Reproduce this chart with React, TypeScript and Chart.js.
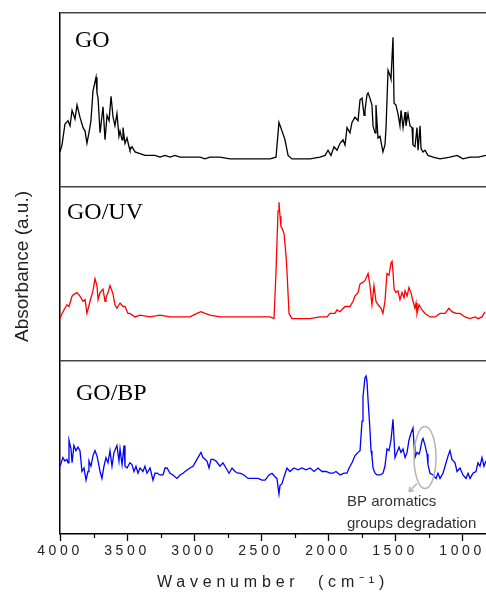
import React, { useEffect, useRef } from 'react';
import { Chart, registerables } from 'chart.js';

Chart.register(...registerables);

// ---------- DATA ----------
const panelLabels = ['GO', 'GO/UV', 'GO/BP'];
const panelOffsets = [2, 1, 0];
const seriesColors = ['#000000', '#ff0000', '#0000ff'];

const xMajorTicks = [1000, 1500, 2000, 2500, 3000, 3500, 4000];
const xMinorTicks = [3750, 3250, 2750, 2250, 1750, 1250];

const goWn = [
  4000, 3985, 3963, 3940, 3925, 3910, 3888, 3873, 3851, 3828,
  3813, 3799, 3784, 3769, 3754, 3731, 3724, 3716, 3701, 3679,
  3664, 3649, 3634, 3619, 3604, 3590, 3575, 3560, 3552, 3537,
  3530, 3515, 3500, 3485, 3478, 3463, 3440, 3403, 3366, 3328,
  3291, 3254, 3216, 3179, 3142, 3104, 3030, 2955, 2918, 2881,
  2806, 2731, 2657, 2582, 2507, 2433, 2388, 2366, 2343, 2321,
  2298, 2269, 2209, 2134, 2060, 2022, 2000, 1978, 1955, 1933,
  1910, 1888, 1873, 1858, 1836, 1821, 1799, 1776, 1761, 1746,
  1731, 1724, 1709, 1701, 1687, 1672, 1664, 1649, 1642, 1627,
  1612, 1590, 1575, 1567, 1552, 1537, 1530, 1515, 1507, 1493,
  1478, 1463, 1455, 1440, 1425, 1418, 1403, 1388, 1373, 1366,
  1351, 1336, 1328, 1313, 1306, 1291, 1276, 1254, 1216, 1164,
  1090, 1037, 1015, 993, 940, 880, 821,
];
const goAbs = [
  0.20, 0.24, 0.36, 0.38, 0.35, 0.44, 0.39, 0.47, 0.40, 0.34,
  0.32, 0.25, 0.31, 0.38, 0.55, 0.63, 0.54, 0.51, 0.31, 0.46,
  0.27, 0.41, 0.38, 0.52, 0.40, 0.35, 0.42, 0.29, 0.32, 0.27,
  0.34, 0.25, 0.28, 0.23, 0.21, 0.23, 0.20, 0.19, 0.18, 0.18,
  0.18, 0.17, 0.18, 0.17, 0.18, 0.17, 0.17, 0.17, 0.16, 0.17,
  0.17, 0.16, 0.16, 0.16, 0.16, 0.16, 0.17, 0.37, 0.32, 0.27,
  0.18, 0.16, 0.16, 0.16, 0.17, 0.18, 0.21, 0.18, 0.23, 0.21,
  0.25, 0.27, 0.24, 0.34, 0.31, 0.37, 0.40, 0.38, 0.50, 0.51,
  0.41, 0.44, 0.53, 0.54, 0.51, 0.47, 0.35, 0.31, 0.47, 0.28,
  0.29, 0.20, 0.24, 0.34, 0.67, 0.64, 0.62, 0.86, 0.48, 0.47,
  0.42, 0.35, 0.44, 0.34, 0.43, 0.35, 0.42, 0.35, 0.34, 0.24,
  0.23, 0.34, 0.21, 0.35, 0.22, 0.20, 0.21, 0.18, 0.17, 0.16,
  0.17, 0.18, 0.17, 0.16, 0.17, 0.17, 0.18,
];

const uvWn = [
  4000, 3985, 3963, 3948, 3933, 3910, 3896, 3873, 3851, 3828,
  3813, 3799, 3776, 3754, 3739, 3724, 3716, 3701, 3679, 3664,
  3657, 3642, 3627, 3612, 3604, 3590, 3575, 3552, 3530, 3515,
  3493, 3478, 3440, 3403, 3328, 3254, 3179, 3104, 3030, 2978,
  2948, 2918, 2881, 2806, 2731, 2657, 2582, 2507, 2433, 2403,
  2388, 2373, 2366, 2358, 2351, 2343, 2328, 2313, 2306, 2291,
  2269, 2209, 2134, 2060, 2007, 1985, 1948, 1933, 1910, 1873,
  1836, 1813, 1799, 1776, 1761, 1739, 1724, 1701, 1687, 1672,
  1657, 1642, 1627, 1604, 1590, 1575, 1560, 1545, 1530, 1522,
  1515, 1507, 1493, 1478, 1463, 1448, 1433, 1425, 1410, 1396,
  1381, 1366, 1351, 1343, 1336, 1321, 1298, 1276, 1239, 1201,
  1164, 1127, 1097, 1075, 1045, 1015, 978, 940, 903, 880,
  851, 828,
];
const uvAbs = [
  0.24, 0.27, 0.30, 0.32, 0.31, 0.37, 0.38, 0.39, 0.37, 0.34,
  0.35, 0.27, 0.34, 0.40, 0.47, 0.43, 0.35, 0.39, 0.41, 0.34,
  0.36, 0.39, 0.43, 0.40, 0.38, 0.32, 0.30, 0.33, 0.31, 0.31,
  0.27, 0.27, 0.25, 0.26, 0.25, 0.26, 0.25, 0.25, 0.25, 0.27,
  0.28, 0.27, 0.26, 0.25, 0.25, 0.25, 0.25, 0.25, 0.25, 0.24,
  0.51, 0.86, 0.91, 0.83, 0.77, 0.76, 0.73, 0.60, 0.51, 0.27,
  0.24, 0.24, 0.24, 0.25, 0.25, 0.27, 0.27, 0.29, 0.28, 0.31,
  0.31, 0.34, 0.37, 0.39, 0.44, 0.45, 0.46, 0.50, 0.43, 0.32,
  0.43, 0.34, 0.32, 0.30, 0.27, 0.34, 0.50, 0.49, 0.56, 0.57,
  0.51, 0.41, 0.39, 0.40, 0.35, 0.39, 0.36, 0.40, 0.37, 0.42,
  0.39, 0.34, 0.30, 0.33, 0.27, 0.32, 0.29, 0.27, 0.25, 0.25,
  0.27, 0.27, 0.30, 0.28, 0.27, 0.27, 0.25, 0.24, 0.25, 0.24,
  0.25, 0.28,
];

const bpWn = [
  4000, 3978, 3963, 3948, 3940, 3933, 3918, 3910, 3896, 3881,
  3866, 3851, 3836, 3821, 3806, 3791, 3784, 3769, 3754, 3739,
  3724, 3716, 3701, 3687, 3672, 3657, 3642, 3627, 3612, 3597,
  3575, 3560, 3552, 3537, 3522, 3515, 3500, 3478, 3463, 3448,
  3433, 3418, 3403, 3381, 3366, 3351, 3328, 3306, 3291, 3276,
  3254, 3231, 3216, 3201, 3179, 3157, 3127, 3104, 3082, 3067,
  3030, 3007, 2978, 2948, 2933, 2918, 2903, 2888, 2873, 2858,
  2836, 2806, 2784, 2761, 2739, 2716, 2694, 2672, 2657, 2627,
  2597, 2560, 2522, 2493, 2470, 2440, 2418, 2396, 2381, 2366,
  2358, 2343, 2328, 2306, 2284, 2254, 2224, 2194, 2164, 2134,
  2104, 2075, 2045, 2015, 1985, 1963, 1940, 1910, 1881, 1858,
  1843, 1821, 1799, 1776, 1761, 1746, 1739, 1724, 1716, 1709,
  1701, 1687, 1679, 1672, 1664, 1649, 1634, 1612, 1590, 1575,
  1560, 1545, 1530, 1515, 1507, 1500, 1485, 1470, 1455, 1440,
  1425, 1410, 1396, 1381, 1366, 1358, 1351, 1336, 1321, 1313,
  1298, 1291, 1276, 1261, 1254, 1239, 1216, 1194, 1179, 1164,
  1142, 1119, 1104, 1090, 1075, 1052, 1037, 1015, 993, 970,
  955, 940, 918, 896, 881, 866, 851, 836, 821,
];
const bpAbs = [
  0.39, 0.44, 0.42, 0.43, 0.41, 0.54, 0.49, 0.41, 0.51, 0.48,
  0.50, 0.48, 0.36, 0.38, 0.31, 0.36, 0.42, 0.39, 0.45, 0.48,
  0.45, 0.42, 0.36, 0.32, 0.39, 0.44, 0.41, 0.48, 0.39, 0.47,
  0.51, 0.42, 0.49, 0.40, 0.51, 0.39, 0.38, 0.41, 0.40, 0.36,
  0.39, 0.35, 0.38, 0.36, 0.39, 0.35, 0.38, 0.31, 0.35, 0.35,
  0.34, 0.34, 0.38, 0.38, 0.35, 0.34, 0.32, 0.34, 0.35, 0.36,
  0.38, 0.39, 0.43, 0.47, 0.44, 0.43, 0.42, 0.38, 0.43, 0.43,
  0.42, 0.39, 0.41, 0.38, 0.35, 0.38, 0.36, 0.35, 0.35, 0.34,
  0.32, 0.32, 0.32, 0.31, 0.31, 0.34, 0.35, 0.33, 0.32, 0.23,
  0.28, 0.29, 0.33, 0.38, 0.36, 0.38, 0.37, 0.38, 0.37, 0.38,
  0.36, 0.38, 0.36, 0.36, 0.35, 0.35, 0.36, 0.34, 0.35, 0.35,
  0.38, 0.41, 0.45, 0.47, 0.48, 0.65, 0.79, 0.90, 0.91, 0.88,
  0.77, 0.60, 0.48, 0.45, 0.38, 0.35, 0.34, 0.34, 0.35, 0.39,
  0.49, 0.48, 0.54, 0.66, 0.54, 0.44, 0.47, 0.50, 0.47, 0.49,
  0.44, 0.47, 0.54, 0.58, 0.61, 0.51, 0.44, 0.47, 0.46, 0.48,
  0.54, 0.55, 0.51, 0.46, 0.40, 0.35, 0.34, 0.32, 0.35, 0.32,
  0.35, 0.41, 0.45, 0.48, 0.43, 0.41, 0.36, 0.38, 0.34, 0.32,
  0.35, 0.32, 0.35, 0.36, 0.41, 0.39, 0.44, 0.39, 0.42,
];

const annotationLines = ['BP aromatics', 'groups degradation'];
const annotationWn = 1276;
const annotationAbs = 0.44;

const xTitle = 'Wavenumber  (cm\u207B\u00B9)';
const yTitle = 'Absorbance (a.u.)';

// ---------- STYLE ----------
const SANS = "Arial, 'Liberation Sans', sans-serif";
const SERIF = "'Times New Roman', 'Liberation Serif', serif";

const decorPlugin = {
  id: 'decor',
  beforeDraw(chart: any) {
    chart.ctx.letterSpacing = '4.8px'; // x-axis title
  },
  afterDatasetsDraw(chart: any) {
    chart.ctx.letterSpacing = '3.6px'; // x tick labels (z = 1)
  },
  afterDraw(chart: any) {
    const { ctx, chartArea, scales } = chart;
    const xs = scales.x;
    const ys = scales.y;
    ctx.save();
    ctx.letterSpacing = '0px';

    // minor ticks
    ctx.strokeStyle = '#000';
    ctx.lineWidth = 1.2;
    xMinorTicks.forEach((v) => {
      const px = Math.round(xs.getPixelForValue(v)) + 0.5;
      ctx.beginPath();
      ctx.moveTo(px, chartArea.bottom);
      ctx.lineTo(px, chartArea.bottom + 4);
      ctx.stroke();
    });

    // panel labels
    ctx.fillStyle = '#000';
    ctx.font = `24px ${SERIF}`;
    ctx.textAlign = 'left';
    ctx.textBaseline = 'alphabetic';
    const dx = [15, 7, 16];
    const dy = [34, 32, 40];
    panelLabels.forEach((t, i) => {
      const top = ys.getPixelForValue(panelOffsets[i] + 1);
      ctx.fillText(t, chartArea.left + dx[i], top + dy[i]);
    });

    // annotation
    const ex = xs.getPixelForValue(annotationWn);
    const ey = ys.getPixelForValue(annotationAbs + panelOffsets[2]);
    ctx.strokeStyle = '#b4b4b4';
    ctx.lineWidth = 1.5;
    ctx.beginPath();
    ctx.ellipse(ex, ey, 11, 31, 0, 0, Math.PI * 2);
    ctx.stroke();
    ctx.beginPath();
    ctx.moveTo(ex - 8, ey + 26);
    ctx.lineTo(ex - 16, ey + 34);
    ctx.stroke();
    ctx.beginPath();
    ctx.moveTo(ex - 16, ey + 34);
    ctx.lineTo(ex - 15, ey + 29);
    ctx.moveTo(ex - 16, ey + 34);
    ctx.lineTo(ex - 11, ey + 33);
    ctx.stroke();
    ctx.fillStyle = '#333';
    ctx.font = `15px ${SANS}`;
    ctx.fillText(annotationLines[0], ex - 78, ey + 48);
    ctx.fillText(annotationLines[1], ex - 78, ey + 70);

    // y title
    ctx.translate(chartArea.left - 37, (chartArea.top + chartArea.bottom) / 2 - 7);
    ctx.rotate(-Math.PI / 2);
    ctx.fillStyle = '#222';
    ctx.font = `19px ${SANS}`;
    ctx.textAlign = 'center';
    ctx.textBaseline = 'middle';
    ctx.fillText(yTitle, 0, 0);
    ctx.restore();
  },
};

export default function App() {
  const canvasRef = useRef<HTMLCanvasElement | null>(null);

  useEffect(() => {
    const canvas = canvasRef.current;
    if (!canvas) return;
    const series = [
      { wn: goWn, abs: goAbs },
      { wn: uvWn, abs: uvAbs },
      { wn: bpWn, abs: bpAbs },
    ];
    const chart = new Chart(canvas, {
      type: 'line',
      data: {
        datasets: series.map((s, i) => ({
          label: panelLabels[i],
          data: s.wn.map((w, j) => ({ x: w, y: s.abs[j] + panelOffsets[i] })),
          borderColor: seriesColors[i],
          borderWidth: 1.3,
          pointRadius: 0,
          tension: 0,
          fill: false,
        })),
      },
      options: {
        responsive: false,
        animation: false,
        events: [],
        layout: { padding: { left: 60, top: 13, right: 0, bottom: 0 } },
        plugins: { legend: { display: false }, tooltip: { enabled: false } },
        scales: {
          x: {
            type: 'linear',
            reverse: true,
            min: 821,
            max: 4000,
            afterBuildTicks: (axis: any) => {
              axis.ticks = xMajorTicks.map((v) => ({ value: v }));
            },
            ticks: {
              z: 1,
              padding: 2,
              color: '#222',
              maxRotation: 0,
              autoSkip: false,
              font: { family: SANS, size: 14 },
              callback: (v: any) => String(v),
            },
            grid: {
              drawOnChartArea: false,
              tickLength: 7,
              tickColor: '#000',
              tickWidth: 1.3,
            },
            border: { color: '#000', width: 1.5 },
            title: {
              display: true,
              text: xTitle,
              color: '#222',
              font: { family: SANS, size: 16 },
              padding: { top: 11, bottom: 0 },
            },
          },
          y: {
            type: 'linear',
            min: 0,
            max: 3,
            afterBuildTicks: (axis: any) => {
              axis.ticks = [0, 1, 2, 3].map((v) => ({ value: v }));
            },
            ticks: { display: false },
            grid: {
              drawTicks: false,
              color: (ctx: any) => (ctx.tick && ctx.tick.value === 0 ? 'rgba(0,0,0,0)' : '#444'),
              lineWidth: 1.5,
            },
            border: { color: '#000', width: 1.5 },
          },
        },
      },
      plugins: [decorPlugin],
    } as any);
    return () => chart.destroy();
  }, []);

  return (
    <div style={{ position: 'fixed', left: 0, top: 0, width: 486, height: 592, background: '#fff' }}>
      <canvas ref={canvasRef} width={486} height={592} style={{ display: 'block' }} />
    </div>
  );
}
